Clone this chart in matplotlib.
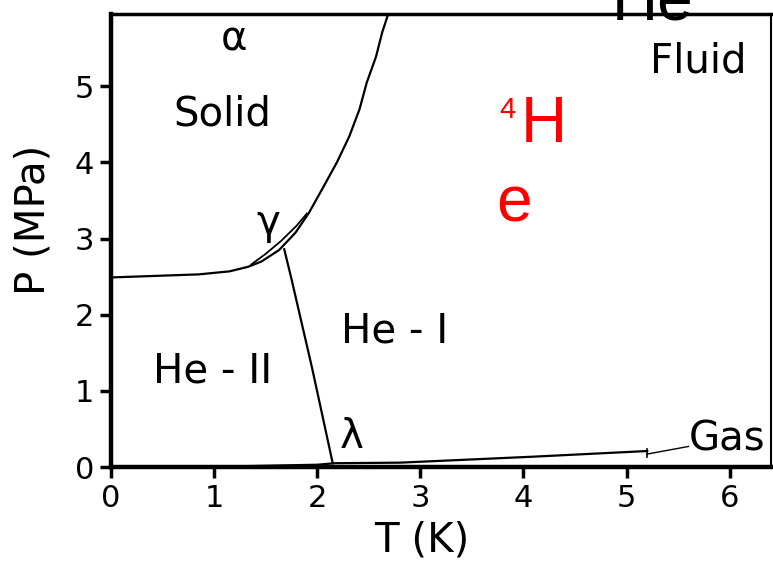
import numpy as np
import matplotlib.pyplot as plt

# Phase boundaries of helium-4 (T in K, P in MPa)
melt_T = [0.0, 0.85, 1.15, 1.33, 1.46, 1.63, 1.79, 1.92, 2.06, 2.19, 2.31,
          2.41, 2.48, 2.57, 2.63, 2.70]
melt_P = [2.49, 2.53, 2.57, 2.63, 2.70, 2.85, 3.08, 3.34, 3.68, 4.00, 4.34,
          4.70, 5.05, 5.39, 5.71, 6.00]

# hcp / bcc boundary closing the small gamma pocket
gamma_T = [1.36, 1.50, 1.65, 1.80, 1.90]
gamma_P = [2.66, 2.80, 2.97, 3.17, 3.33]

lambda_T = [1.68, 1.75, 1.95, 2.15]
lambda_P = [2.86, 2.47, 1.30, 0.05]

vap_T = [0.0, 1.0, 2.0, 2.17, 2.8, 4.1, 5.2]
vap_P = [0.0, 0.003, 0.03, 0.05, 0.057, 0.136, 0.21]

crit_T, crit_P = 5.2, 0.21

xticks = [0, 1, 2, 3, 4, 5, 6]
yticks = [0, 1, 2, 3, 4, 5]

fig = plt.figure(figsize=(7.73, 5.63), dpi=100)
ax = fig.add_axes([0.1436, 0.1705, 0.8538, 0.8046])

ax.plot(melt_T, melt_P, color='black', lw=1.6)
ax.plot(gamma_T, gamma_P, color='black', lw=1.3)
ax.plot(lambda_T, lambda_P, color='black', lw=1.6)
ax.plot(vap_T, vap_P, color='black', lw=1.6)

# critical point tick and pointer to the gas label
ax.plot([crit_T, crit_T], [crit_P + 0.02, crit_P - 0.08], color='black', lw=1.2)
ax.plot([crit_T, 5.6], [crit_P - 0.04, crit_P + 0.06], color='black', lw=1.0)

ax.set_xlim(0, 6.4)
ax.set_ylim(0, 5.95)
ax.set_xticks(xticks)
ax.set_yticks(yticks)
ax.tick_params(direction='out', length=8, width=2.5, labelsize=22, pad=4)

for side, lw in [('left', 3.2), ('bottom', 3.2), ('top', 2.5), ('right', 1.5)]:
    ax.spines[side].set_linewidth(lw)

ax.set_xlabel('T (K)', fontsize=29)
ax.set_ylabel('P (MPa)', fontsize=29)
ax.xaxis.set_label_coords(0.471, -0.118)
ax.yaxis.set_label_coords(-0.087, 0.545)

lab = dict(fontsize=29, ha='center', va='center')
ax.text(1.19, 5.62, 'α', **lab)
ax.text(1.08, 4.63, 'Solid', **lab)
ax.text(1.53, 3.21, 'γ', **lab)
ax.text(2.75, 1.78, 'He - I', **lab)
ax.text(0.99, 1.25, 'He - II', **lab)
ax.text(2.33, 0.39, 'λ', **lab)
ax.text(5.69, 5.33, 'Fluid', **lab)
ax.text(5.97, 0.36, 'Gas', **lab)

red = dict(color='red', family='Liberation Sans', va='baseline', ha='left')
ax.text(3.77, 4.59, '4', fontsize=21, **red)
ax.text(3.97, 4.27, 'H', fontsize=46, **red)
ax.text(3.74, 3.22, 'e', fontsize=46, **red)

fig.text(612 / 773, 1 - 20 / 563, 'He', fontsize=46, family='Liberation Sans',
         va='baseline', ha='left', color='black')

fig.savefig('out.png', dpi=100)
